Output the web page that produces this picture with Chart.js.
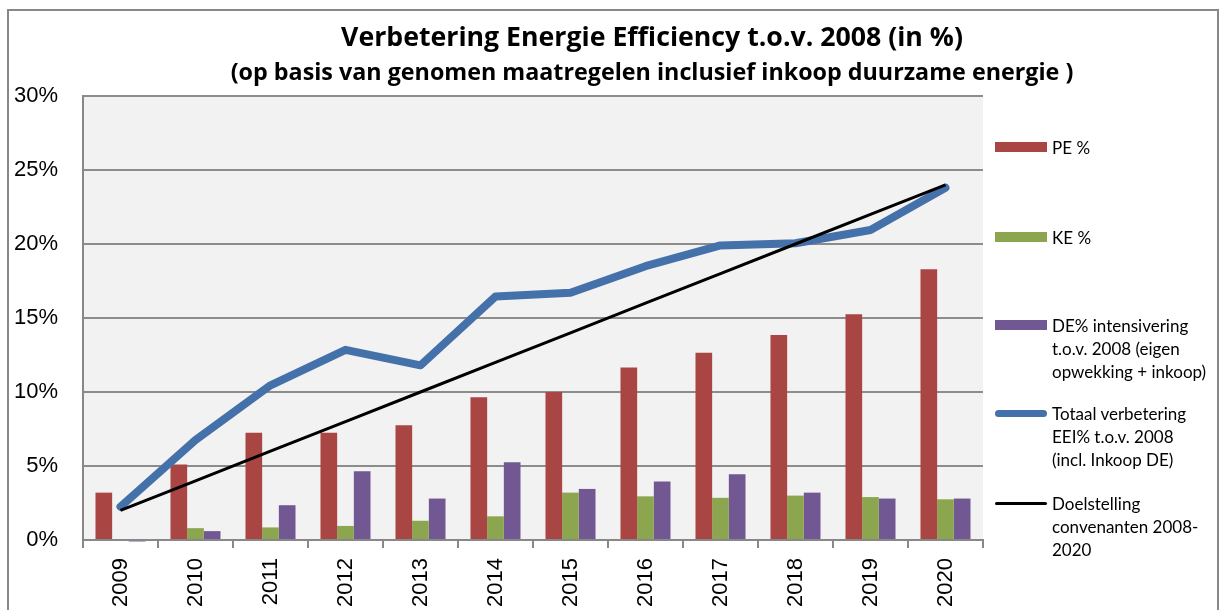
<!DOCTYPE html>
<html>
<head>
<meta charset="utf-8">
<script src="https://cdn.jsdelivr.net/npm/chart.js@4.4.0/dist/chart.umd.min.js"></script>
<style>
	body { margin: 0; background: #fff; }
	#wrap { position: relative; width: 1221px; height: 610px; overflow: hidden; }
	#legend { position: absolute; left: 995px; top: 0; font-family: Lato, sans-serif; font-size: 17px; color: #000; }
	.item { position: absolute; left: 0; width: 225px; }
	.swatch { position: absolute; left: 0; width: 52px; }
	.text { position: absolute; left: 57px; line-height: 23px; white-space: nowrap; }
</style>
</head>
<body>
<div id="wrap">
	<canvas id="eeiChart" width="1221" height="610"></canvas>
	<div id="legend"></div>
</div>
<script>
var years = ['2009', '2010', '2011', '2012', '2013', '2014', '2015', '2016', '2017', '2018', '2019', '2020'];
var pe = [3.2, 5.1, 7.25, 7.25, 7.75, 9.65, 10.0, 11.65, 12.65, 13.85, 15.25, 18.3];
var ke = [0, 0.8, 0.85, 0.95, 1.3, 1.6, 3.2, 2.95, 2.85, 3.0, 2.9, 2.75];
var de = [-0.1, 0.6, 2.35, 4.65, 2.8, 5.25, 3.45, 3.95, 4.45, 3.2, 2.8, 2.8];
var totaal = [2.25, 6.75, 10.45, 12.85, 11.8, 16.45, 16.7, 18.5, 19.9, 20.05, 20.95, 23.8];
var doel = [2, 4, 6, 8, 10, 12, 14, 16, 18, 20, 22, 24];
var yTicks = [0, 5, 10, 15, 20, 25, 30];

var titleText = 'Verbetering Energie Efficiency t.o.v. 2008 (in %)';
var subtitleText = '(op basis van genomen maatregelen inclusief inkoop duurzame energie )';

// legend texts, wrapped like the original
var legendLines = [
	['PE %'],
	['KE %'],
	['DE% intensivering', 't.o.v. 2008 (eigen', 'opwekking + inkoop)'],
	['Totaal verbetering', 'EEI% t.o.v. 2008', '(incl. Inkoop DE)'],
	['Doelstelling', 'convenanten 2008-', '2020'],
];

var colors = {
	pe: '#A94643',
	ke: '#8BA64F',
	de: '#715892',
	totaal: '#4471A9',
	doel: '#000000',
};

var backdrop = {
	id: 'backdrop',
	beforeDraw: function (chart) {
		var ctx = chart.ctx;
		var a = chart.chartArea;
		ctx.save();
		ctx.fillStyle = '#F2F2F2';
		ctx.fillRect(a.left, a.top, a.right - a.left, a.bottom - a.top);
		ctx.strokeStyle = '#888888';
		ctx.lineWidth = 2;
		ctx.strokeRect(8, 10, 1210, 700);
		ctx.fillStyle = '#000';
		ctx.textAlign = 'center';
		ctx.textBaseline = 'middle';
		var cx = (a.left + chart.width) / 2;
		ctx.font = 'bold 26.7px "Open Sans"';
		ctx.fillText(titleText, cx, 38);
		ctx.font = 'bold 23.3px "Open Sans"';
		ctx.fillText(subtitleText, cx, 73);
		ctx.restore();
	},
};

var eeiChart = new Chart(document.getElementById('eeiChart'), {
	type: 'bar',
	data: {
		labels: years,
		datasets: [
			{
				type: 'line',
				label: 'Doelstelling convenanten 2008-2020',
				data: doel,
				borderColor: colors.doel,
				borderWidth: 3,
				pointRadius: 0,
				fill: false,
				order: 0,
			},
			{
				type: 'line',
				label: 'Totaal verbetering EEI% t.o.v. 2008 (incl. Inkoop DE)',
				data: totaal,
				borderColor: colors.totaal,
				borderWidth: 8,
				borderCapStyle: 'round',
				borderJoinStyle: 'round',
				pointRadius: 0,
				fill: false,
				order: 1,
			},
			{
				label: 'PE %',
				data: pe,
				backgroundColor: colors.pe,
				order: 2,
			},
			{
				label: 'KE %',
				data: ke,
				backgroundColor: colors.ke,
				order: 2,
			},
			{
				label: 'DE% intensivering t.o.v. 2008 (eigen opwekking + inkoop)',
				data: de,
				backgroundColor: colors.de,
				clip: false,
				order: 2,
			},
		],
	},
	options: {
		responsive: false,
		animation: false,
		categoryPercentage: 0.667,
		barPercentage: 1.0,
		layout: {
			padding: { top: 96, right: 238, left: 0, bottom: 0 },
		},
		plugins: {
			legend: { display: false },
			title: { display: false },
			tooltip: { enabled: false },
		},
		scales: {
			x: {
				afterFit: function (scale) { scale.height = 70; },
				grid: {
					offset: true,
					drawOnChartArea: false,
					drawTicks: true,
					tickLength: 8,
					color: '#888888',
					lineWidth: 2,
				},
				border: { color: '#888888', width: 2 },
				ticks: {
					color: '#000',
					font: { family: 'Liberation Sans', size: 22 },
					minRotation: 90,
					maxRotation: 90,
					padding: 10,
					autoSkip: false,
				},
			},
			y: {
				min: 0,
				max: 30,
				afterFit: function (scale) { scale.width = 83; },
				afterBuildTicks: function (scale) {
					scale.ticks = yTicks.map(function (v) { return { value: v }; });
				},
				grid: {
					drawTicks: false,
					color: '#8C8C8C',
					lineWidth: 2,
				},
				border: { color: '#888888', width: 2 },
				ticks: {
					color: '#000',
					font: { family: 'Liberation Sans', size: 22 },
					padding: 25,
					callback: function (v) { return v + '%'; },
				},
			},
		},
	},
	plugins: [backdrop],
});

// legend on the right
var legendTops = [147, 237, 325, 413, 503];
var swatches = [
	{ color: colors.pe, h: 10, r: 0 },
	{ color: colors.ke, h: 10, r: 0 },
	{ color: colors.de, h: 10, r: 0 },
	{ color: colors.totaal, h: 7, r: 4 },
	{ color: colors.doel, h: 3, r: 2 },
];
var legend = document.getElementById('legend');
legendLines.forEach(function (lines, i) {
	var item = document.createElement('div');
	item.className = 'item';
	item.style.top = legendTops[i] + 'px';
	var sw = document.createElement('div');
	sw.className = 'swatch';
	sw.style.background = swatches[i].color;
	sw.style.height = swatches[i].h + 'px';
	sw.style.top = (-swatches[i].h / 2) + 'px';
	sw.style.borderRadius = swatches[i].r + 'px';
	item.appendChild(sw);
	var tx = document.createElement('div');
	tx.className = 'text';
	tx.style.top = '-11.5px';
	tx.innerHTML = lines.join('<br>');
	item.appendChild(tx);
	legend.appendChild(item);
});
</script>
</body>
</html>
